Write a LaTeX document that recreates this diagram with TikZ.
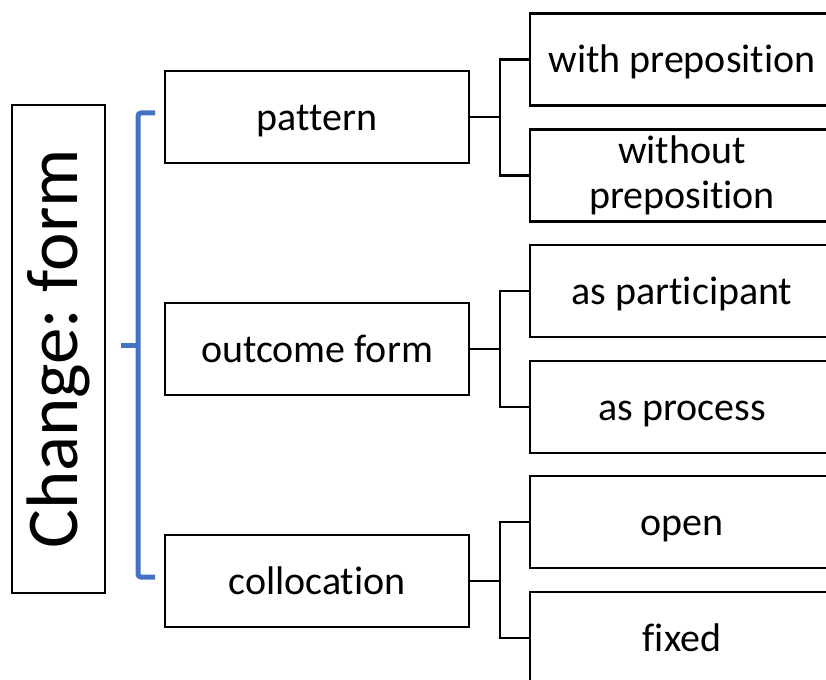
\documentclass[tikz,border=0pt]{standalone}
\usepackage{fontspec}
\setmainfont{Carlito}[Ligatures=NoCommon]
\definecolor{bracketblue}{HTML}{4472C4}
\frenchspacing
\begin{document}
\begin{tikzpicture}[x=1pt,y=-1pt,
  box/.style={draw=black,line width=2.8pt,minimum width=304pt,minimum height=92pt,
    inner sep=0pt,align=center,font=\fontsize{40}{45}\selectfont},
  oneline/.style={box,text height=36pt,text depth=9.6pt},
  link/.style={draw=black,line width=2.8pt},
  bracket/.style={draw=bracketblue,line width=5pt,rounded corners=3pt}]
\clip (0,0) rectangle (826,679);
\fill[white] (0,0) rectangle (826,679);

% title box on the left, text running upwards
\node[draw=black,line width=2.8pt,minimum width=488pt,minimum height=93pt,inner sep=0pt,
  rotate=90,font=\fontsize{73}{80}\selectfont] (title) at (58.5,349) {Change: form};

% blue bracket grouping the three categories
\coordinate (bt) at (155,113);
\coordinate (bb) at (155,577);
\coordinate (bm) at (121,345);
\draw[bracket] (bt) -- (138,113) -- (138,577) -- (bb);
\draw[bracket,rounded corners=0pt] (138,345) -- (bm);

% categories
\node[oneline] (pat) at (317,117) {pattern};
\node[oneline] (out) at (317,349) {outcome form};
\node[oneline] (col) at (317,581) {collocation};

% subcategories
\node[oneline] (wp)  at (682,59.5)  {with preposition};
\node[box]     (wop) at (682,175.5) {without\\preposition};
\node[oneline] (ap)  at (682,291)   {as participant};
\node[oneline] (apr) at (682,407)   {as process};
\node[oneline] (op)  at (682,522)   {open};
\node[oneline] (fx)  at (682,638)   {fixed};

% tree connectors
\coordinate (j1) at (500,117);
\coordinate (j2) at (500,349);
\coordinate (j3) at (500,581);
\draw[link] (pat.east) -- (j1);
\draw[link] (wp.west) -| (j1) |- (wop.west);
\draw[link] (out.east) -- (j2);
\draw[link] (ap.west) -| (j2) |- (apr.west);
\draw[link] (col.east) -- (j3);
\draw[link] (op.west) -| (j3) |- (fx.west);
\end{tikzpicture}
\end{document}
